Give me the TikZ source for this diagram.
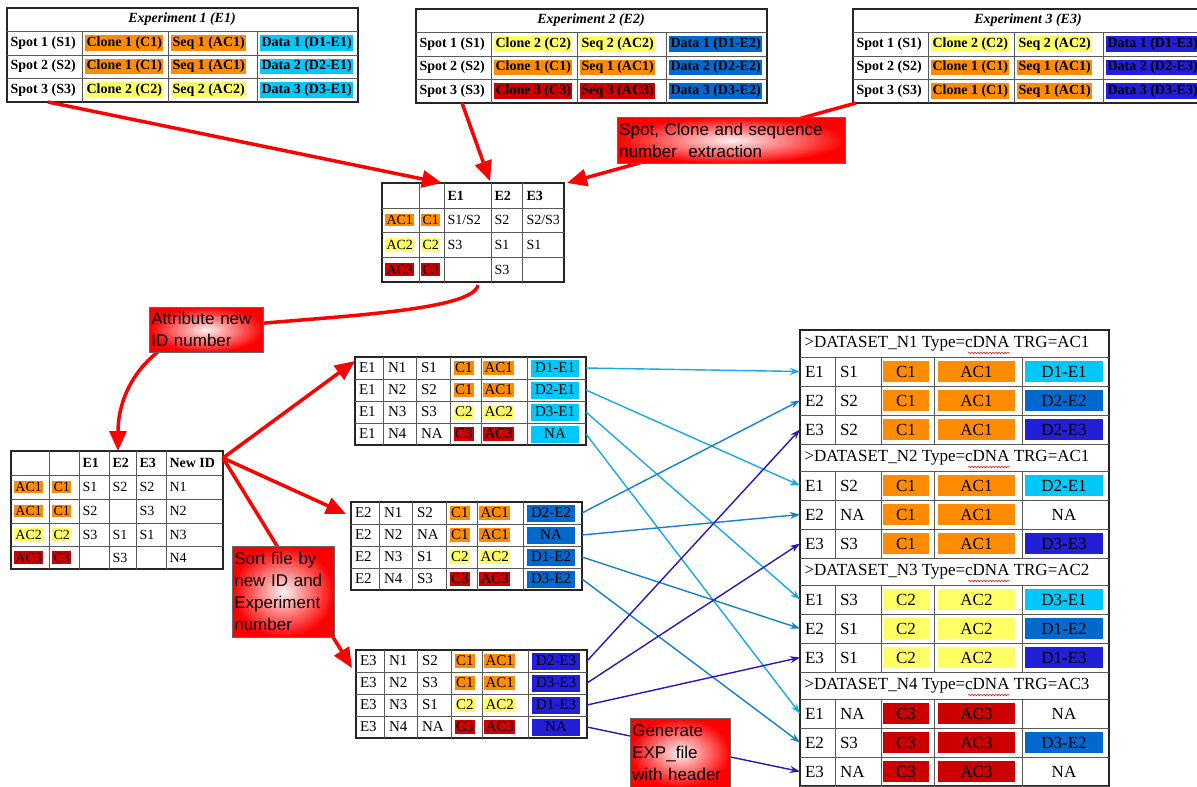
\documentclass[tikz,border=0pt]{standalone}
\usepackage{fontspec}
\setmainfont{Liberation Serif}
\setsansfont{Liberation Sans}
\usetikzlibrary{arrows.meta,decorations.pathmorphing}

\definecolor{clone1}{RGB}{255,140,0}
\definecolor{clone2}{RGB}{255,255,102}
\definecolor{clone3}{RGB}{204,0,0}
\definecolor{data1}{RGB}{0,200,250}
\definecolor{data2}{RGB}{0,105,205}
\definecolor{data3}{RGB}{35,30,215}
\definecolor{link1}{RGB}{25,170,230}
\definecolor{link2}{RGB}{20,130,205}
\definecolor{link3}{RGB}{45,20,190}

\tikzset{
  tabline/.style={draw=black!65, line width=0.8pt},
  frame/.style={draw=black!85, line width=1.2pt, inner sep=0pt, outer sep=0pt, anchor=north west},
  txt/.style={anchor=west, inner sep=1.5pt, outer sep=0pt},
  hl/.style={txt, fill=#1},
  dbox/.style={fill=#1, inner sep=0pt, minimum width=48pt, minimum height=17pt},
  rowbox/.style={inner sep=0pt, outer sep=0pt, anchor=north west},
  callout/.style={draw=black!60, line width=0.6pt, inner color=red!5, outer color=red,
    anchor=north west, align=left, inner sep=2pt, font=\sffamily\fontsize{17}{22}\selectfont},
  redarrow/.style={draw=red, line width=3.5pt, -{Triangle[length=20pt,width=17pt]}},
  link/.style={draw=link#1, line width=1.4pt, -{Stealth[length=10pt,width=7pt]}},
}

% one experiment table: #1 number, #2 x, #3 y, #4 clone of each spot
\newcommand{\exptab}[4]{%
  \begin{scope}[shift={(#2,#3)}, font=\bfseries\fontsize{14}{16}\selectfont]
    \node[frame, minimum width=351pt, minimum height=94pt] (e#1tab) at (0,0) {};
    \draw[tabline] (0,23) -- (351,23);
    \foreach \y in {47,70} \draw[tabline] (0,\y) -- (351,\y);
    \foreach \x in {75,161,250} \draw[tabline] (\x,23) -- (\x,94);
    \node[font=\bfseries\itshape\fontsize{14}{16}\selectfont] (e#1head) at (175,11.5) {Experiment #1 (E#1)};
    \foreach \cln [count=\spn] in {#4} {
      \node[txt] (e#1-sp\spn) at (2,{11.5+23.5*\spn}) {Spot \spn\ (S\spn)};
      \node[hl=clone\cln] (e#1-cl\spn) at (78,{11.5+23.5*\spn}) {Clone \cln\ (C\cln)};
      \node[hl=clone\cln] (e#1-sq\spn) at (164,{11.5+23.5*\spn}) {Seq \cln\ (AC\cln)};
      \node[hl=data#1] (e#1-da\spn) at (253,{11.5+23.5*\spn}) {Data \spn\ (D\spn-E#1)};
    }
  \end{scope}}

% one table sorted by new ID: #1 experiment, #2 x, #3 y, #4 rows
\newcommand{\sorttab}[4]{%
  \begin{scope}[shift={(#2,#3)}, font=\fontsize{15}{17}\selectfont]
    \node[frame, minimum width=231pt, minimum height=88pt] (s#1tab) at (0,0) {};
    \foreach \y in {22,44,66} \draw[tabline] (0,\y) -- (231,\y);
    \foreach \x in {28,61,95,126,172} \draw[tabline] (\x,0) -- (\x,88);
    \foreach \sn/\cl/\dt [count=\nn] in {#4} {
      \node[rowbox, minimum width=231pt, minimum height=22pt] (s#1-r\nn) at (0,{22*(\nn-1)}) {};
      \node[txt] at (2.5,{22*\nn-11}) {E#1};
      \node[txt] at (31.5,{22*\nn-11}) {N\nn};
      \node[txt] at (64.5,{22*\nn-11}) {\sn};
      \node[hl=clone\cl] at (98.5,{22*\nn-11}) {C\cl};
      \node[hl=clone\cl] at (128,{22*\nn-11}) {AC\cl};
      \node[dbox=data#1] (s#1-d\nn) at (200,{22*\nn-11}) {\dt};
    }
  \end{scope}}

% one dataset block: #1 new ID, #2 y, #3 target, #4 rows
\newcommand{\dblock}[4]{%
  \begin{scope}[shift={(800,#2)}, font=\fontsize{17}{19}\selectfont]
    \node[txt] (d#1-head) at (3,13.5) {>DATASET\_N#1 Type=cDNA TRG=AC#3};
    \draw[red, line width=0.5pt, decorate, decoration={snake, amplitude=0.7pt, segment length=3pt}] (168,23) -- (210,23);
    \draw[tabline] (0,27) -- (309,27);
    \foreach \y in {56,85} \draw[tabline] (0,\y) -- (309,\y);
    \draw[tabline] (0,114) -- (309,114);
    \foreach \x in {35,81,134,222} \draw[tabline] (\x,27) -- (\x,114);
    \foreach \ex/\sn/\cl/\dt/\df [count=\rr] in {#4} {
      \node[rowbox, minimum width=309pt, minimum height=29pt] (d#1-r\rr) at (0,{27+29*(\rr-1)}) {};
      \node[txt] at (3.5,{12.5+29*\rr}) {E\ex};
      \node[txt] at (38.5,{12.5+29*\rr}) {\sn};
      \node[fill=clone\cl, inner sep=0pt, minimum width=46pt, minimum height=21pt] at (106,{12.5+29*\rr}) {C\cl};
      \node[fill=clone\cl, inner sep=0pt, minimum width=77pt, minimum height=21pt] at (176.5,{12.5+29*\rr}) {AC\cl};
      \node[fill=\df, inner sep=0pt, minimum width=78pt, minimum height=21pt] at (264,{12.5+29*\rr}) {\dt};
    }
  \end{scope}}

\begin{document}
\begin{tikzpicture}[x=1pt, y=-1pt]
  \useasboundingbox (0,0) rectangle (1197,787);
  \clip (0,0) rectangle (1197,787);
  \fill[white] (0,0) rectangle (1197,787);

  % Experiment tables
  \exptab{1}{7}{8}{1,1,2}
  \exptab{2}{416}{9}{2,1,3}
  \exptab{3}{853}{9}{2,1,1}

  % Spots per clone
  \begin{scope}[font=\fontsize{14}{16}\selectfont]
    \node[frame, minimum width=182pt, minimum height=99pt] (ctab) at (382,183) {};
    \foreach \y in {208,232,257} \draw[tabline] (382,\y) -- (564,\y);
    \foreach \x in {419,444,491,522} \draw[tabline] (\x,183) -- (\x,282);
    \node[txt, font=\bfseries\fontsize{14}{16}\selectfont] (c-h1) at (446,195.5) {E1};
    \node[txt, font=\bfseries\fontsize{14}{16}\selectfont] (c-h2) at (493,195.5) {E2};
    \node[txt, font=\bfseries\fontsize{14}{16}\selectfont] (c-h3) at (525,195.5) {E3};
    \foreach \a/\b/\c/\yc [count=\i] in {{S1/S2}/S2/{S2/S3}/220, S3/S1/S1/244.5, {}/S3/{}/269.5} {
      \node[hl=clone\i] (c-ac\i) at (385,\yc) {AC\i};
      \node[hl=clone\i] (c-cl\i) at (421,\yc) {C\i};
      \node[txt] (c-a\i) at (446,\yc) {\a};
      \node[txt] (c-b\i) at (493,\yc) {\b};
      \node[txt] (c-c\i) at (525,\yc) {\c};
    }
  \end{scope}

  % New ID table
  \begin{scope}[font=\fontsize{14}{16}\selectfont]
    \node[frame, minimum width=212pt, minimum height=118pt] (newtab) at (11,451) {};
    \foreach \y in {475,499,523,546} \draw[tabline] (11,\y) -- (223,\y);
    \foreach \x in {49,79,109,136,166} \draw[tabline] (\x,451) -- (\x,569);
    \node[txt, font=\bfseries\fontsize{14}{16}\selectfont] (n-h1) at (81,463) {E1};
    \node[txt, font=\bfseries\fontsize{14}{16}\selectfont] (n-h2) at (111,463) {E2};
    \node[txt, font=\bfseries\fontsize{14}{16}\selectfont] (n-h3) at (138,463) {E3};
    \node[txt, font=\bfseries\fontsize{14}{16}\selectfont] (n-h4) at (168,463) {New ID};
    \foreach \c/\a/\b/\d/\yc [count=\i] in {1/S1/S2/S2/487, 1/S2/{}/S3/511, 2/S3/S1/S1/534.5, 3/{}/S3/{}/557.5} {
      \node[hl=clone\c] (n-ac\i) at (14,\yc) {AC\c};
      \node[hl=clone\c] (n-cl\i) at (52,\yc) {C\c};
      \node[txt] (n-a\i) at (81,\yc) {\a};
      \node[txt] (n-b\i) at (111,\yc) {\b};
      \node[txt] (n-d\i) at (138,\yc) {\d};
      \node[txt] (n-id\i) at (168,\yc) {N\i};
    }
  \end{scope}

  % Tables sorted by new ID
  \sorttab{1}{355}{357}{S1/1/D1-E1, S2/1/D2-E1, S3/2/D3-E1, NA/3/NA}
  \sorttab{2}{351}{502}{S2/1/D2-E2, NA/1/NA, S1/2/D1-E2, S3/3/D3-E2}
  \sorttab{3}{356}{650}{S2/1/D2-E3, S3/1/D3-E3, S1/2/D1-E3, NA/3/NA}

  % EXP file
  \node[frame, minimum width=309pt, minimum height=456pt] (dtab) at (800,330) {};
  \dblock{1}{330}{1}{1/S1/1/D1-E1/data1, 2/S2/1/D2-E2/data2, 3/S2/1/D2-E3/data3}
  \dblock{2}{444}{1}{1/S2/1/D2-E1/data1, 2/NA/1/NA/white, 3/S3/1/D3-E3/data3}
  \dblock{3}{558}{2}{1/S3/2/D3-E1/data1, 2/S1/2/D1-E2/data2, 3/S1/2/D1-E3/data3}
  \dblock{4}{672}{3}{1/NA/3/NA/white, 2/S3/3/D3-E2/data2, 3/NA/3/NA/white}

  % Rows to datasets
  \foreach \e in {1,2,3}
    \foreach \n in {1,...,4}
      \draw[link=\e] (s\e-r\n.east) -- (d\n-r\e.west);

  % Red arrows
  \draw[redarrow] ([xshift=41pt]e1tab.south west) -- ([xshift=60pt]ctab.north west);
  \draw[redarrow] ([xshift=46pt]e2tab.south west) -- ([xshift=108pt,yshift=2pt]ctab.north west);
  \draw[redarrow] ([xshift=3pt]e3tab.south west) -- ([xshift=3pt]ctab.north east);
  \draw[redarrow] ([xshift=96pt,yshift=-3pt]ctab.south west) .. controls +(-5,30) and +(80,-12) .. (205,329.5)
    .. controls +(-60,15) and +(0,-60) .. ([xshift=107pt]newtab.north west);
  \draw[redarrow] ([yshift=-7pt]newtab.north east) -- ([yshift=-4pt]s1tab.north west);
  \draw[redarrow] ([yshift=-7pt]newtab.north east) -- ([xshift=-5pt,yshift=-12pt]s2tab.north west);
  \draw[redarrow] ([yshift=-7pt]newtab.north east) -- ([xshift=-4pt,yshift=-18pt]s3tab.north west);

  % Step labels
  \node[callout, minimum width=228pt, minimum height=46pt, text width=224pt] (spotbox) at (617,117)
    {Spot, Clone and sequence\\number\ \ extraction};
  \node[callout, minimum width=112pt, minimum height=45pt, text width=110pt] (attrbox) at (149,307)
    {Attribute new\\ID number};
  \node[callout, minimum width=100pt, minimum height=91pt, text width=98pt] (sortbox) at (232,546)
    {Sort file by\\new ID and\\Experiment\\number};
  \node[callout, minimum width=98pt, minimum height=69pt, text width=96pt] (genbox) at (630,718)
    {Generate\\EXP\_file\\with header};
\end{tikzpicture}
\end{document}
